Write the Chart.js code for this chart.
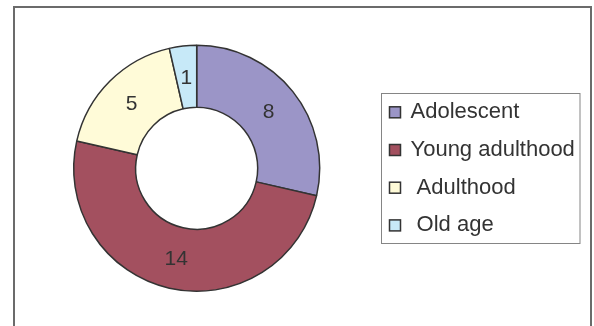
<!DOCTYPE html>
<html>
<head>
<meta charset="utf-8">
<script src="https://cdn.jsdelivr.net/npm/chart.js@4/dist/chart.umd.min.js"></script>
<style>
  html, body { margin: 0; padding: 0; background: #fff; }
  #wrap { position: relative; width: 594px; height: 326px; }
</style>
</head>
<body>
<div id="wrap"><canvas id="ageChart" width="594" height="326"></canvas></div>
<script>
// Age groups and counts
var groups = ['Adolescent', 'Young adulthood', ' Adulthood', ' Old age'];
var counts = [8, 14, 5, 1];
var groupColors = ['#9b95c7', '#a3505f', '#fffbd8', '#c7e9f8'];

var FONT = '"Liberation Sans", Arial, sans-serif';
var INK = '#333333';

// outer frame, slice numbers and the boxed legend on the right
var decorations = {
    id: 'decorations',
    beforeDraw: function(chart) {
        var ctx = chart.ctx;
        ctx.save();
        ctx.fillStyle = '#ffffff';
        ctx.fillRect(0, 0, chart.width, chart.height);
        ctx.strokeStyle = '#6b6b6b';
        ctx.lineWidth = 2;
        ctx.strokeRect(14, 7, 577, 340);
        ctx.restore();
    },
    afterDatasetsDraw: function(chart) {
        var ctx = chart.ctx;
        var arcs = chart.getDatasetMeta(0).data;
        var values = chart.data.datasets[0].data;
        ctx.save();
        ctx.font = '21px ' + FONT;
        ctx.fillStyle = INK;
        ctx.textAlign = 'center';
        ctx.textBaseline = 'middle';
        arcs.forEach(function(arc, i) {
            var p = arc.tooltipPosition();
            ctx.fillText(String(values[i]), p.x, p.y + 1);
        });
        ctx.restore();
    },
    afterDraw: function(chart) {
        var ctx = chart.ctx;
        var labels = chart.data.labels;
        var colors = chart.data.datasets[0].backgroundColor;
        ctx.save();
        ctx.strokeStyle = '#858585';
        ctx.lineWidth = 1;
        ctx.strokeRect(381.5, 93.5, 198.5, 150);
        ctx.font = '22px ' + FONT;
        ctx.textAlign = 'left';
        ctx.textBaseline = 'alphabetic';
        labels.forEach(function(label, i) {
            var base = 118.3 + i * 37.7;
            ctx.fillStyle = colors[i];
            ctx.fillRect(389.5, base - 11.5, 11, 11);
            ctx.strokeStyle = INK;
            ctx.lineWidth = 1.5;
            ctx.strokeRect(389.5, base - 11.5, 11, 11);
            ctx.fillStyle = INK;
            ctx.fillText(label, 410.5, base);
        });
        ctx.restore();
    }
};

new Chart(document.getElementById('ageChart'), {
    type: 'doughnut',
    data: {
        labels: groups,
        datasets: [{
            data: counts,
            backgroundColor: groupColors,
            borderColor: INK,
            borderWidth: 1.5
        }]
    },
    options: {
        responsive: false,
        animation: false,
        radius: 123,
        cutout: '49.6%',
        layout: { padding: { left: 60, right: 260.6, top: 20, bottom: 9.4 } },
        plugins: {
            legend: { display: false },
            tooltip: { enabled: false }
        }
    },
    plugins: [decorations]
});
</script>
</body>
</html>
